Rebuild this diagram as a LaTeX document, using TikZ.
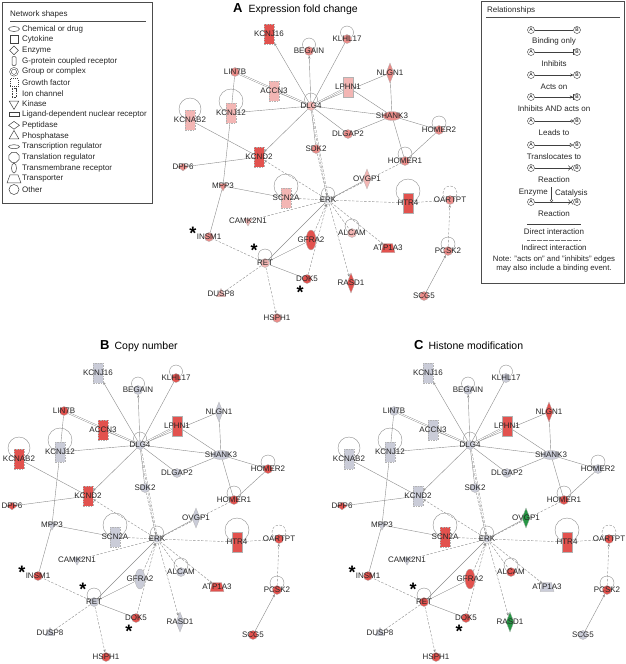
\documentclass[tikz,border=0pt]{standalone}
\usepackage{fontspec}
\setmainfont{Liberation Sans}
\usepackage{tikz}
\usetikzlibrary{arrows.meta,shapes.geometric,backgrounds}

\definecolor{ipahi}{RGB}{226,82,78}
\definecolor{ipamid}{RGB}{234,140,137}
\definecolor{ipalo}{RGB}{243,182,180}
\definecolor{ipagrey}{RGB}{202,204,216}
\definecolor{ipagreen}{RGB}{38,150,68}
\definecolor{ipaedge}{RGB}{140,140,140}

\tikzset{
  ipagene/.style={draw=black!30, line width=0.3pt, inner sep=0.5pt, fill=ipagrey,
    label={[ipalabel]center:#1}, c#1/.try},
  ipalabel/.style={font=\fontsize{8}{9}\selectfont, text=black!85, inner sep=0pt},
  ipachan/.style={rectangle, minimum width=10pt, minimum height=20pt, draw=black!22, dash pattern=on 1.6pt off 1pt},
  ipagpcr/.style={rectangle, minimum width=10pt, minimum height=20pt},
  ipaother/.style={circle, minimum size=9pt},
  ipagroup/.style={circle, minimum size=8pt, double, double distance=0.8pt},
  ipawide/.style={ellipse, minimum width=18pt, minimum height=9pt},
  ipareceptor/.style={ellipse, minimum width=10pt, minimum height=20pt},
  ipaenzyme/.style={diamond, minimum width=8pt, minimum height=20pt},
  ipapeptidase/.style={diamond, minimum width=10pt, minimum height=8pt},
  ipakinase/.style={regular polygon, regular polygon sides=3, shape border rotate=180, minimum size=10pt},
  ipaphosphatase/.style={regular polygon, regular polygon sides=3, minimum size=11pt},
  ipatransporter/.style={trapezium, trapezium left angle=75, trapezium right angle=75, minimum width=9pt, minimum height=9pt},
  tonehi/.style={fill=ipahi},
  tonemid/.style={fill=ipamid},
  tonelo/.style={fill=ipalo},
  tonered/.style={fill=ipahi},
  tonegreen/.style={fill=ipagreen},
  ipadirect/.style={draw=ipaedge, line width=0.4pt},
  ipaindirect/.style={ipadirect, dash pattern=on 2.5pt off 1.5pt},
  ipatip/.style={-{Stealth[length=3pt,width=2.4pt]}},
  ipatwin/.style={double=white, double distance=0.9pt},
  ipaloop/.style={draw=ipaedge, line width=0.4pt},
  ipastar/.style={font=\bfseries\fontsize{18}{18}\selectfont, inner sep=0pt, anchor=north},
  paneltitle/.style={font=\fontsize{10.5}{12}\selectfont, inner sep=0pt, anchor=base west},
  legbox/.style={draw=black!70, line width=0.8pt},
  legrule/.style={draw=black!70, line width=0.5pt},
  legtext/.style={font=\fontsize{8}{9.5}\selectfont, text=black!85, inner sep=0pt},
  legicon/.style={draw=black!75, line width=0.5pt, inner sep=0.5pt},
  legchem/.style={ellipse, minimum width=11pt, minimum height=5pt},
  legcyto/.style={rectangle, minimum size=8pt},
  legenz/.style={diamond, minimum size=9pt},
  leggpcr/.style={rectangle, rounded corners=1pt, minimum width=4pt, minimum height=9pt},
  leggroup/.style={circle, minimum size=7pt, double, double distance=1pt},
  leggrowth/.style={rectangle, minimum size=8pt, dash pattern=on 1pt off 1pt},
  legion/.style={rectangle, minimum width=4pt, minimum height=9pt, dash pattern=on 0.8pt off 0.8pt},
  legkin/.style={regular polygon, regular polygon sides=3, shape border rotate=180, minimum size=11pt},
  leglig/.style={rectangle, minimum width=10pt, minimum height=4pt},
  legpep/.style={diamond, minimum width=11pt, minimum height=8pt},
  legphos/.style={regular polygon, regular polygon sides=3, minimum size=11pt},
  legtrreg/.style={ellipse, minimum width=11pt, minimum height=4pt},
  legtlreg/.style={regular polygon, regular polygon sides=8, minimum size=11pt},
  legtmr/.style={ellipse, minimum width=5pt, minimum height=10pt},
  legtrans/.style={trapezium, trapezium left angle=70, trapezium right angle=70, minimum width=9pt, minimum height=8pt},
  legother/.style={circle, minimum size=10pt},
  ipaend/.style={circle, draw=black!80, line width=0.4pt, inner sep=0pt, minimum size=7pt,
    font=\fontsize{5}{5}\selectfont},
  legline/.style={draw=black!75, line width=0.5pt},
  relbind/.style={},
  relinh/.style={-{Bar[width=6pt]}},
  relacts/.style={-{Stealth[length=3pt,width=3pt]}},
  relboth/.style={-{Stealth[length=3pt,width=3pt]Bar[width=6pt]}},
  relleads/.style={-{Circle[open,length=3pt]}},
  reltrans/.style={-{Triangle[open,length=3.5pt,width=4pt]}},
  relreact/.style={-{Straight Barb[length=2pt,width=5pt]Straight Barb[reversed,length=2pt,width=5pt]}}
}

% one network, drawn once per panel
\newcommand{\ipanetwork}{%
  \node[ipachan, ipagene=KCNJ16] (KCNJ16) at (269,34) {};
  \node[ipaother, ipagene=BEGAIN] (BEGAIN) at (309,51) {};
  \node[ipaother, ipagene=KLHL17] (KLHL17) at (347,39) {};
  \node[ipaother, ipagene=LIN7B] (LIN7B) at (235,72) {};
  \node[ipachan, ipagene=ACCN3] (ACCN3) at (274,91) {};
  \node[ipagpcr, ipagene=LPHN1] (LPHN1) at (348,87) {};
  \node[ipaenzyme, ipagene=NLGN1] (NLGN1) at (390,73) {};
  \node[ipaother, ipagene=DLG4] (DLG4) at (311,106) {};
  \node[ipachan, ipagene=KCNJ12] (KCNJ12) at (231,113) {};
  \node[ipachan, ipagene=KCNAB2] (KCNAB2) at (190,120) {};
  \node[ipawide, ipagene=SHANK3] (SHANK3) at (392,116) {};
  \node[ipaother, ipagene=DLGAP2] (DLGAP2) at (348,134) {};
  \node[ipaother, ipagene=HOMER2] (HOMER2) at (439,130) {};
  \node[ipaother, ipagene=SDK2] (SDK2) at (316,149) {};
  \node[ipachan, ipagene=KCND2] (KCND2) at (259,157) {};
  \node[ipaother, ipagene=HOMER1] (HOMER1) at (405,161) {};
  \node[ipapeptidase, ipagene=DPP6] (DPP6) at (183,167) {};
  \node[ipakinase, ipagene=MPP3] (MPP3) at (223,186) {};
  \node[ipachan, ipagene=SCN2A] (SCN2A) at (286,198) {};
  \node[ipagroup, ipagene=ERK] (ERK) at (328,200) {};
  \node[ipaenzyme, ipagene=OVGP1] (OVGP1) at (367,179) {};
  \node[ipagpcr, ipagene=HTR4] (HTR4) at (408,203) {};
  \node[ipaother, ipagene=OARTPT] (OARTPT) at (450,200) {};
  \node[ipaother, ipagene=PCSK2] (PCSK2) at (448,251) {};
  \node[ipaother, ipagene=SCG5] (SCG5) at (424,296) {};
  \node[ipakinase, ipagene=CAMK2N1] (CAMK2N1) at (248,221) {};
  \node[ipaother, ipagene=INSM1] (INSM1) at (209,237) {};
  \node[ipareceptor, ipagene=GFRA2] (GFRA2) at (311,240) {};
  \node[ipaother, ipagene=ALCAM] (ALCAM) at (352,233) {};
  \node[ipatransporter, ipagene=ATP1A3] (ATP1A3) at (388,248) {};
  \node[ipaother, ipagene=RET] (RET) at (265,263) {};
  \node[ipaother, ipagene=DOK5] (DOK5) at (307,279) {};
  \node[ipaenzyme, ipagene=RASD1] (RASD1) at (351,283) {};
  \node[ipaphosphatase, ipagene=DUSP8] (DUSP8) at (221,294) {};
  \node[ipaother, ipagene=HSPH1] (HSPH1) at (277,318) {};
  \node[ipastar] (star1) at (193,226.5) {*};
  \node[ipastar] (star2) at (254,244) {*};
  \node[ipastar] (star3) at (300,286) {*};
  \begin{pgfonlayer}{background}
    \foreach \g/\rad in {BEGAIN/6.5, KLHL17/6.5, DLG4/6.5, KCNJ12/12, KCNAB2/11, HOMER2/7,
        HOMER1/7, SCN2A/12, ERK/6.5, HTR4/12, PCSK2/7, ALCAM/7, RET/7}
      \draw[ipaloop] ([yshift=\rad pt]\g.center) circle[radius=\rad pt];
    \draw[ipaloop, ipaindirect] ([yshift=7pt]OARTPT.center) circle[radius=7pt];
    \foreach \s/\t in {DLG4/KLHL17, DLG4/ACCN3, DLG4/NLGN1, DLG4/KCNJ12, DLG4/SHANK3,
        DLG4/DLGAP2, DLG4/SDK2, LIN7B/KCNJ12, KCNJ12/MPP3, MPP3/INSM1, MPP3/SCN2A,
        KCNAB2/KCND2, DPP6/KCND2, NLGN1/SHANK3, LPHN1/SHANK3, SHANK3/DLGAP2,
        SHANK3/HOMER2, SHANK3/HOMER1, HOMER2/HOMER1, ERK/OVGP1, ERK/RET, RET/GFRA2, RET/DOK5}
      \draw[ipadirect] (\s) -- (\t);
    \foreach \s/\t in {DLG4/KCNJ16, DLG4/BEGAIN, DLG4/KCND2, SCG5/PCSK2}
      \draw[ipadirect, ipatip] (\s) -- (\t);
    \foreach \s/\t in {DLG4/LIN7B, DLG4/LPHN1}
      \draw[ipadirect, ipatwin] (\s) -- (\t);
    \draw[ipaindirect, ipatwin] (DLG4) -- (ERK);
    \foreach \s/\t in {ERK/HOMER1, ERK/HTR4, HTR4/OARTPT, ERK/CAMK2N1, ERK/ALCAM,
        RET/INSM1, RET/DUSP8}
      \draw[ipaindirect] (\s) -- (\t);
    \foreach \s/\t in {SCN2A/ERK, SDK2/ERK, GFRA2/ERK, DOK5/ERK, ERK/KCND2, ERK/RASD1,
        ERK/ATP1A3, RET/HSPH1, PCSK2/OARTPT}
      \draw[ipaindirect, ipatip] (\s) -- (\t);
  \end{pgfonlayer}
}

\begin{document}
\begin{tikzpicture}[x=1pt,y=-1pt]
  \useasboundingbox (0,0) rectangle (625,664);

  % network shapes legend
  \draw[legbox] (2,2) rectangle (152,203);
  \node[legtext, anchor=west] (shapetitle) at (10,14) {Network shapes};
  \draw[legrule] (10,21) -- (146,21);
  \foreach \sty/\txt [count=\i] in {legchem/Chemical or drug, legcyto/Cytokine, legenz/Enzyme,
      leggpcr/G-protein coupled receptor, leggroup/Group or complex, leggrowth/Growth factor,
      legion/Ion channel, legkin/Kinase, leglig/Ligand-dependent nuclear receptor,
      legpep/Peptidase, legphos/Phosphatase, legtrreg/Transcription regulator,
      legtlreg/Translation regulator, legtmr/Transmembrane receptor, legtrans/Transporter,
      legother/Other}{
    \node[legicon, \sty] (icon\i) at (14,18.3+10.7*\i) {};
    \node[legtext, anchor=west] (shape\i) at (22,18.3+10.7*\i) {\txt};
  }

  % relationships legend
  \draw[legbox] (481,1) rectangle (624,283);
  \node[legtext, anchor=west] (reltitle) at (487,10) {Relationships};
  \draw[legrule] (486,17) -- (620,17);
  \foreach \y/\tip/\txt [count=\k] in {30/relbind/Binding only, 52/relinh/Inhibits,
      75/relacts/Acts on, 97/relboth/Inhibits AND acts on, 121/relleads/Leads to,
      145/reltrans/Translocates to, 168/relreact/Reaction}{
    \node[ipaend] (ra\k) at (531,\y) {A};
    \node[ipaend] (rb\k) at (577,\y) {B};
    \draw[legline, \tip] (ra\k) -- (rb\k);
    \node[legtext] (rl\k) at (554,\y+11.5) {\txt};
  }
  \node[legtext, anchor=east] (enzyme) at (548,193) {Enzyme};
  \node[legtext, anchor=west] (catalysis) at (555,193) {Catalysis};
  \node[ipaend] (ra8) at (531,202) {A};
  \node[ipaend] (rb8) at (577,202) {B};
  \draw[legline, relreact] (ra8) -- (rb8);
  \node[circle, draw=black!75, fill=white, line width=0.4pt, inner sep=0pt, minimum size=2.6pt] (cat) at (551.5,200.5) {};
  \draw[legline] (551.5,187) -- (cat);
  \node[legtext] (rl8) at (554,213.5) {Reaction};
  \draw[legline] (527,224) -- (581,224);
  \node[legtext] (direct) at (554,231.5) {Direct interaction};
  \draw[legline, draw=black!55, dash pattern=on 0.5pt off 0.7pt] (527,240) -- (581,240);
  \node[legtext] (indirect) at (554,248) {Indirect interaction};
  \node[legtext, align=center, font=\fontsize{7.8}{8.5}\selectfont] (note) at (554,264)
    {Note: "acts on" and "inhibits" edges\\may also include a binding event.};

  % panel A
  \node[paneltitle] (titleA) at (233,12) {\textbf{\fontsize{13}{13}\selectfont A}\hspace{6pt}Expression fold change};
  \begin{scope}[name prefix=a-,
      cKCNJ16/.style=tonehi, cBEGAIN/.style=tonemid, cKLHL17/.style=tonemid,
      cLIN7B/.style=tonemid, cACCN3/.style=tonelo, cLPHN1/.style=tonelo,
      cNLGN1/.style=tonemid, cDLG4/.style=tonelo, cKCNJ12/.style=tonelo,
      cKCNAB2/.style=tonelo, cSHANK3/.style=tonemid, cDLGAP2/.style=tonemid,
      cHOMER2/.style=tonemid, cSDK2/.style=tonemid, cKCND2/.style=tonehi,
      cHOMER1/.style=tonemid, cDPP6/.style=tonemid, cMPP3/.style=tonemid,
      cSCN2A/.style=tonelo, cERK/.style={fill=ipagrey!50}, cOVGP1/.style=tonelo,
      cHTR4/.style=tonehi, cOARTPT/.style=tonemid, cPCSK2/.style=tonemid,
      cSCG5/.style=tonemid, cCAMK2N1/.style=tonelo, cINSM1/.style=tonemid,
      cGFRA2/.style=tonehi, cALCAM/.style=tonelo, cATP1A3/.style=tonehi,
      cRET/.style=tonelo, cDOK5/.style=tonehi, cRASD1/.style=tonehi,
      cDUSP8/.style=tonelo, cHSPH1/.style=tonemid]
    \ipanetwork
  \end{scope}

  % panel B
  \node[paneltitle] (titleB) at (100,349) {\textbf{\fontsize{13}{13}\selectfont B}\hspace{5pt}Copy number};
  \begin{scope}[shift={(-171,339)}, name prefix=b-,
      cKLHL17/.style=tonered, cLIN7B/.style=tonered, cACCN3/.style=tonered,
      cLPHN1/.style=tonered, cKCNAB2/.style=tonered, cHOMER2/.style=tonered,
      cKCND2/.style=tonered, cHOMER1/.style=tonered, cDPP6/.style=tonered,
      cHTR4/.style=tonered, cOARTPT/.style=tonered, cPCSK2/.style=tonered,
      cSCG5/.style=tonered, cINSM1/.style=tonered, cATP1A3/.style=tonered,
      cDOK5/.style=tonered, cHSPH1/.style=tonered]
    \ipanetwork
  \end{scope}

  % panel C
  \node[paneltitle] (titleC) at (414,349) {\textbf{\fontsize{13}{13}\selectfont C}\hspace{5pt}Histone modification};
  \begin{scope}[shift={(159,339)}, name prefix=c-,
      cLPHN1/.style=tonered, cNLGN1/.style=tonered, cHOMER1/.style=tonered,
      cDPP6/.style=tonered, cSCN2A/.style=tonered, cHTR4/.style=tonered,
      cOARTPT/.style=tonered, cPCSK2/.style=tonered, cINSM1/.style=tonered,
      cGFRA2/.style=tonered, cALCAM/.style=tonered, cRET/.style=tonered,
      cDOK5/.style=tonered, cHSPH1/.style=tonered,
      cOVGP1/.style=tonegreen, cRASD1/.style=tonegreen]
    \ipanetwork
  \end{scope}
\end{tikzpicture}
\end{document}
